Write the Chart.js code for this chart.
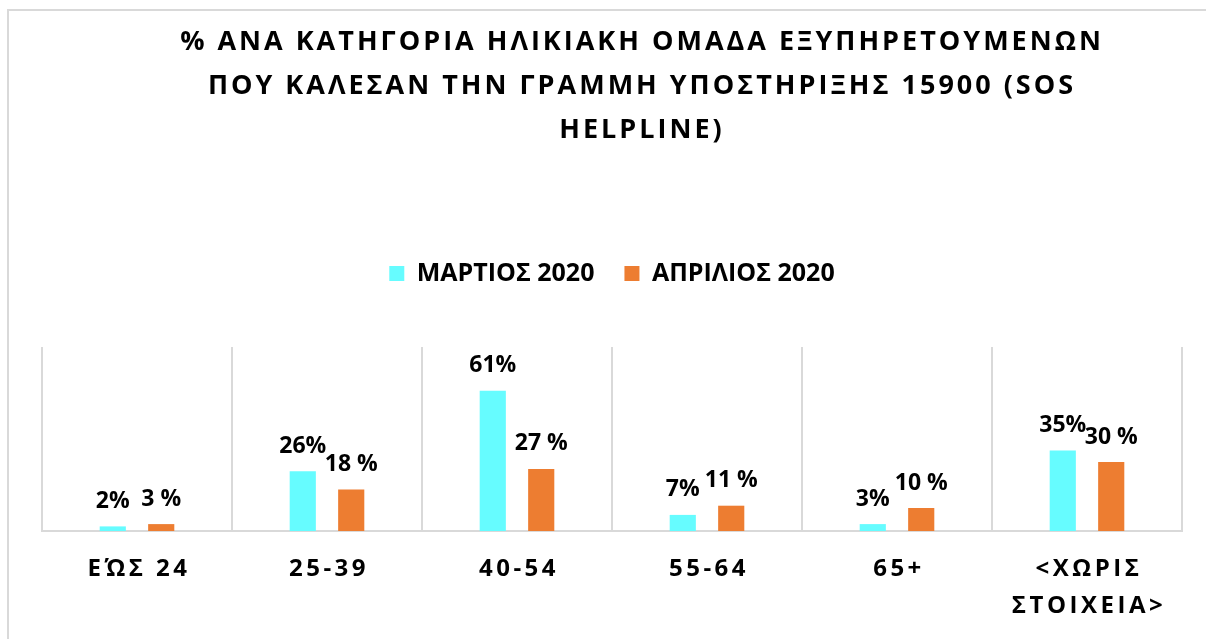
<!DOCTYPE html>
<html lang="el">
<head>
    <meta charset="UTF-8">
    <title>SOS Helpline 15900</title>
    <script src="https://cdn.jsdelivr.net/npm/chart.js"></script>
    <style>
        html, body { margin: 0; padding: 0; background: #fff; overflow: hidden; }
        #frame { position: absolute; left: 7px; top: 9px; width: 1300px; height: 700px; border: 2px solid #d9d9d9; }
        #wrap { position: absolute; left: 0; top: 0; width: 1206px; height: 639px; }
    </style>
</head>
<body>
    <div id="frame"></div>
    <div id="wrap"><canvas id="ageChart" width="1206" height="639"></canvas></div>

<script>
    // κατηγορίες (ηλικιακές ομάδες)
    const categories = ['ΕΏΣ 24', '25-39', '40-54', '55-64', '65+', ['<ΧΩΡΙΣ', 'ΣΤΟΙΧΕΙΑ>']];
    // τιμές σε %
    const march2020 = [2, 26, 61, 7, 3, 35];
    const april2020 = [3, 18, 27, 11, 10, 30];
    const seriesNames = ['ΜΑΡΤΙΟΣ 2020', 'ΑΠΡΙΛΙΟΣ 2020'];
    const labelSuffix = ['%', ' %'];
    const titleLines = [
        '% ΑΝΑ ΚΑΤΗΓΟΡΙΑ ΗΛΙΚΙΑΚΗ ΟΜΑΔΑ ΕΞΥΠΗΡΕΤΟΥΜΕΝΩΝ',
        'ΠΟΥ ΚΑΛΕΣΑΝ ΤΗΝ ΓΡΑΜΜΗ ΥΠΟΣΤΗΡΙΞΗΣ 15900 (SOS',
        'HELPLINE)'
    ];

    const FONT = '"Open Sans", "Liberation Sans", sans-serif';

    // letter spacing για τίτλο / άξονα, λίγο κενό κάτω από το legend
    const tweaks = {
        id: 'tweaks',
        beforeLayout(chart) {
            const lg = chart.legend;
            if (lg && !lg._patched) {
                const fit = lg.fit;
                lg.fit = function () { fit.call(this); this.height += 51; };
                lg._patched = true;
            }
            const tb = chart.titleBlock;
            if (tb && !tb._patched) {
                const orig = tb.draw;
                tb.draw = function () {
                    const ctx = this.ctx;
                    ctx.save();
                    ctx.letterSpacing = '3px';
                    ctx.translate(30, 0);
                    orig.call(this);
                    ctx.restore();
                };
                tb._patched = true;
            }
        },
        beforeDraw(chart) {
            const xs = chart.scales.x;
            if (xs && !xs._patched) {
                const orig = xs.drawLabels;
                xs.drawLabels = function (area) {
                    const ctx = this.ctx;
                    ctx.save();
                    ctx.letterSpacing = '3.5px';
                    ctx.translate(2, 0);
                    orig.call(this, area);
                    ctx.restore();
                };
                xs._patched = true;
            }
        },
        // ετικέτες τιμών πάνω από τις μπάρες
        afterDatasetsDraw(chart) {
            const ctx = chart.ctx;
            ctx.save();
            ctx.font = 'bold 23px ' + FONT;
            ctx.fillStyle = '#000';
            ctx.textAlign = 'center';
            ctx.textBaseline = 'middle';
            chart.data.datasets.forEach((ds, i) => {
                chart.getDatasetMeta(i).data.forEach((bar, j) => {
                    ctx.fillText(ds.data[j] + labelSuffix[i], bar.x, bar.y - 25);
                });
            });
            ctx.restore();
        }
    };

    const ctx = document.getElementById('ageChart').getContext('2d');
    new Chart(ctx, {
        type: 'bar',
        data: {
            labels: categories,
            datasets: [
                {
                    label: seriesNames[0],
                    data: march2020,
                    backgroundColor: '#66FCFF',
                    categoryPercentage: 0.51,
                    barPercentage: 0.54
                },
                {
                    label: seriesNames[1],
                    data: april2020,
                    backgroundColor: '#ED7D31',
                    categoryPercentage: 0.51,
                    barPercentage: 0.54
                }
            ]
        },
        options: {
            responsive: false,
            animation: false,
            layout: { padding: { left: 42, right: 24, top: 0, bottom: 0 } },
            plugins: {
                title: {
                    display: true,
                    text: titleLines,
                    color: '#000',
                    font: { family: FONT, size: 27, weight: 'bold', lineHeight: '44px' },
                    padding: { top: 20, bottom: 79 }
                },
                legend: {
                    position: 'top',
                    labels: {
                        color: '#000',
                        font: { family: FONT, size: 25, weight: 'bold' },
                        boxWidth: 15,
                        boxHeight: 15,
                        padding: 30
                    }
                },
                tooltip: { enabled: false }
            },
            scales: {
                x: {
                    grid: { display: true, color: '#d9d9d9', lineWidth: 2, drawTicks: false, offset: true },
                    border: { display: true, color: '#d9d9d9', width: 2 },
                    ticks: {
                        color: '#000',
                        font: { family: FONT, size: 24, weight: 'bold', lineHeight: '37px' },
                        padding: 20,
                        maxRotation: 0,
                        autoSkip: false
                    },
                    afterFit(scale) { scale.height = 108; }
                },
                y: {
                    display: false,
                    min: 0,
                    max: 80
                }
            }
        },
        plugins: [tweaks]
    });
</script>
</body>
</html>
